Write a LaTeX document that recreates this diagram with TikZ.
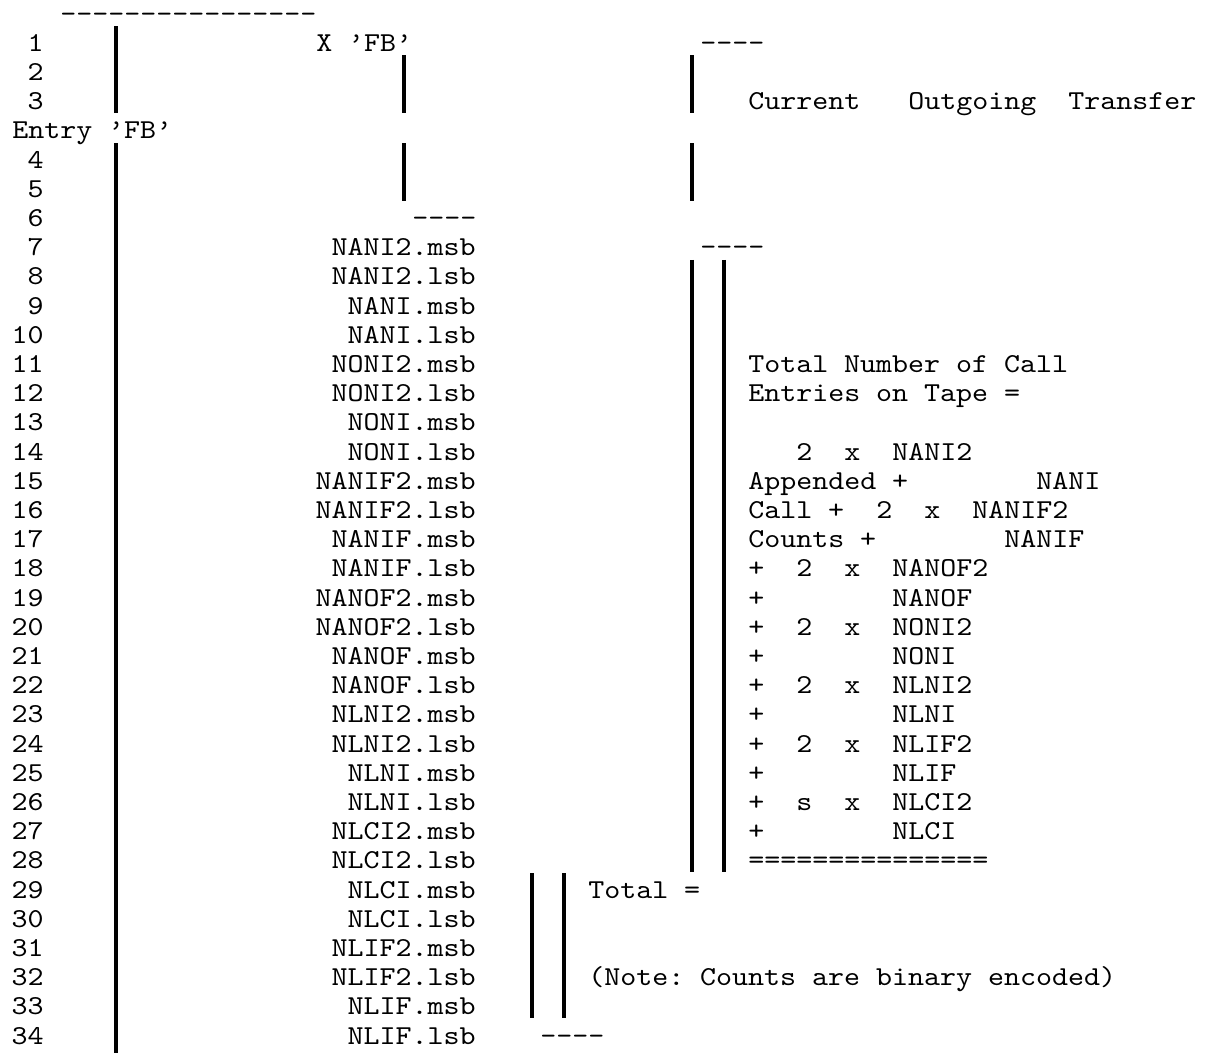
\documentclass[tikz,border=0pt]{standalone}
\usepackage{fontspec}
\newfontfamily\mono[FakeStretch=1.115]{lmmono10-regular.otf}
\newcommand\BL[1]{22+29.2*(#1)}
\newcommand\CX[1]{12+16*(#1)}
\newcommand\BT[1]{14+29.2*(#1)-17}
\newcommand\BB[1]{14+29.2*(#1)+11.5}
\begin{document}
\frenchspacing
\begin{tikzpicture}[x=0.75pt,y=-0.75pt,
  txt/.style={anchor=base west,inner sep=0pt,font={\mono\fontsize{20.5}{24}\selectfont}},
  rtxt/.style={txt,anchor=base east},
  bar/.style={line width=3pt}]
\useasboundingbox (0,0) rectangle (1208,1053);
% row numbers
\foreach \r in {1,...,34}{
  \pgfmathtruncatemacro\L{\r<4 ? \r : \r+1}
  \node[rtxt] (n\r) at ({\CX{2}},{\BL{\L}}) {\r};
}
% left column labels
\foreach \r/\t in {7/NANI2.msb,8/NANI2.lsb,9/NANI.msb,10/NANI.lsb,
  11/NONI2.msb,12/NONI2.lsb,13/NONI.msb,14/NONI.lsb,
  15/NANIF2.msb,16/NANIF2.lsb,17/NANIF.msb,18/NANIF.lsb,
  19/NANOF2.msb,20/NANOF2.lsb,21/NANOF.msb,22/NANOF.lsb,
  23/NLNI2.msb,24/NLNI2.lsb,25/NLNI.msb,26/NLNI.lsb,
  27/NLCI2.msb,28/NLCI2.lsb,29/NLCI.msb,30/NLCI.lsb,
  31/NLIF2.msb,32/NLIF2.lsb,33/NLIF.msb,34/NLIF.lsb}{
  \node[rtxt] (f\r) at ({\CX{29}},{\BL{\r+1}}) {\t};
}
% header texts
\node[txt] (topdash) at ({\CX{3}},{\BL{0}}) {----------------};
\node[txt] (xfb) at ({\CX{19}},{\BL{1}}) {X ’FB’};
\node[txt] (dashA) at ({\CX{43}},{\BL{1}}) {----};
\node[txt] (cur) at ({\CX{46}},{\BL{3}}) {Current};
\node[txt] (out) at ({\CX{56}},{\BL{3}}) {Outgoing};
\node[txt] (tra) at ({\CX{66}},{\BL{3}}) {Transfer};
\node[txt] (entry) at ({\CX{0}},{\BL{4}}) {Entry ’FB’};
\node[txt] (dashB) at ({\CX{25}},{\BL{7}}) {----};
\node[txt] (dashC) at ({\CX{43}},{\BL{8}}) {----};
% right block
\node[txt] (tn1) at ({\CX{46}},{\BL{12}}) {Total Number of Call};
\node[txt] (tn2) at ({\CX{46}},{\BL{13}}) {Entries on Tape =};
\node[txt] (k14) at ({\CX{49}},{\BL{15}}) {2};
\node[txt] (x14) at ({\CX{52}},{\BL{15}}) {x};
\node[txt] (v14) at ({\CX{55}},{\BL{15}}) {NANI2};
\node[txt] (p15) at ({\CX{46}},{\BL{16}}) {Appended +};
\node[txt] (v15) at ({\CX{64}},{\BL{16}}) {NANI};
\node[txt] (p16) at ({\CX{46}},{\BL{17}}) {Call +};
\node[txt] (k16) at ({\CX{54}},{\BL{17}}) {2};
\node[txt] (x16) at ({\CX{57}},{\BL{17}}) {x};
\node[txt] (v16) at ({\CX{60}},{\BL{17}}) {NANIF2};
\node[txt] (p17) at ({\CX{46}},{\BL{18}}) {Counts +};
\node[txt] (v17) at ({\CX{62}},{\BL{18}}) {NANIF};
\foreach \r/\k/\v in {18/2/NANOF2,20/2/NONI2,22/2/NLNI2,24/2/NLIF2,26/s/NLCI2}{
  \node[txt] (p\r) at ({\CX{46}},{\BL{\r+1}}) {+};
  \node[txt] (k\r) at ({\CX{49}},{\BL{\r+1}}) {\k};
  \node[txt] (x\r) at ({\CX{52}},{\BL{\r+1}}) {x};
  \node[txt] (v\r) at ({\CX{55}},{\BL{\r+1}}) {\v};
}
\foreach \r/\v in {19/NANOF,21/NONI,23/NLNI,25/NLIF,27/NLCI}{
  \node[txt] (p\r) at ({\CX{46}},{\BL{\r+1}}) {+};
  \node[txt] (v\r) at ({\CX{55}},{\BL{\r+1}}) {\v};
}
\node[txt] (eq) at ({\CX{46}},{\BL{29}}) {===============};
\node[txt] (total) at ({\CX{36}},{\BL{30}}) {Total =};
\node[txt] (note) at ({\CX{36}},{\BL{33}}) {(Note: Counts are binary encoded)};
\node[txt] (dashD) at ({\CX{33}},{\BL{35}}) {----};
% bars
\draw[bar] (116,{\BT{1}}) -- (116,{\BB{3}});
\draw[bar] (116,{\BT{5}}) -- (116,1053);
\draw[bar] (404,{\BT{2}}) -- (404,{\BB{3}});
\draw[bar] (404,{\BT{5}}) -- (404,{\BB{6}});
\draw[bar] (692,{\BT{2}}) -- (692,{\BB{3}});
\draw[bar] (692,{\BT{5}}) -- (692,{\BB{6}});
\draw[bar] (692,{\BT{9}}) -- (692,{\BB{29}});
\draw[bar] (724,{\BT{9}}) -- (724,{\BB{29}});
\draw[bar] (532,{\BT{30}}) -- (532,{\BB{34}});
\draw[bar] (564,{\BT{30}}) -- (564,{\BB{34}});
\end{tikzpicture}
\end{document}
